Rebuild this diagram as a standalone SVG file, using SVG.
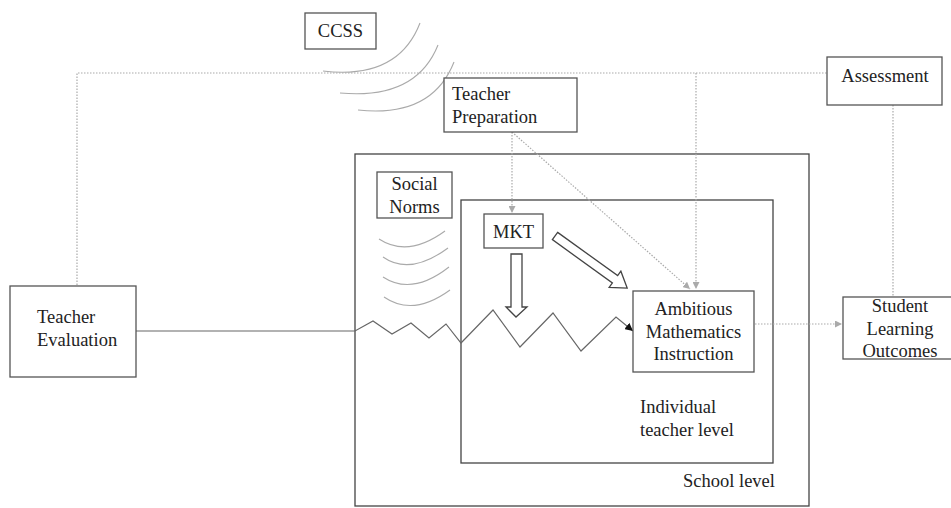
<svg xmlns="http://www.w3.org/2000/svg" width="951" height="508" viewBox="0 0 951 508">
<style>
.box{fill:#fff;stroke:#555;stroke-width:1.3}
.frame{fill:none;stroke:#444;stroke-width:1.3}
.t{font-family:'Liberation Serif','Times New Roman','DejaVu Serif',serif;font-size:18.5px;fill:#222}
.c{text-anchor:middle}
.dot{fill:none;stroke:#aaa;stroke-width:1.2;stroke-dasharray:1.5 1.5}
.arc{fill:none;stroke:#aaa;stroke-width:1.1}
.blk{fill:#fff;stroke:#444;stroke-width:1.3}
</style>
<defs>
<marker id="ga" viewBox="0 0 10 10" refX="10" refY="5" markerWidth="7" markerHeight="7" orient="auto" markerUnits="userSpaceOnUse"><path d="M0,0 L10,5 L0,10 Z" fill="#aaa"/></marker>
<marker id="ba" viewBox="0 0 10 10" refX="10" refY="5" markerWidth="8" markerHeight="8" orient="auto" markerUnits="userSpaceOnUse"><path d="M0,0 L10,5 L0,10 Z" fill="#111"/></marker>
</defs>
<rect width="951" height="508" fill="#fff"/>

<g id="school-level">
<rect class="frame" x="355" y="154" width="454" height="352"/>
<text class="t" font-family="Liberation Serif, serif" x="683" y="487">School level</text>
</g>
<g id="individual-teacher-level">
<rect class="frame" x="461" y="200" width="312" height="263"/>
<text class="t" font-family="Liberation Serif, serif" x="640" y="413">Individual</text>
<text class="t" font-family="Liberation Serif, serif" x="640" y="436">teacher level</text>
</g>

<g id="connectors">
<path class="dot" d="M77,285 V73 H827"/>
<path class="dot" d="M696,73 V289" marker-end="url(#ga)"/>
<path class="dot" d="M512,132 V213" marker-end="url(#ga)"/>
<path class="dot" d="M512,132 L690,289" marker-end="url(#ga)"/>
<path class="dot" d="M893,105 V297"/>
<path class="dot" d="M752,324 H842" marker-end="url(#ga)"/>
<path fill="none" stroke="#666" stroke-width="1.2" d="M136,331 H355 L373,321 L392,334 L411,323 L429,338 L446,324 L461,343 L493,310 L520,347 L553,313 L581,351 L616,317 L633,331" marker-end="url(#ba)"/>
<path class="arc" d="M420,23 Q398,80 323,71"/>
<path class="arc" d="M438,45 Q416,100 340,93"/>
<path class="arc" d="M454,62 Q432,118 358,110"/>
<path class="arc" d="M379,239 Q408,258 445,231"/>
<path class="arc" d="M383,257 Q410,276 448,248"/>
<path class="arc" d="M383,277 Q412,296 449,267"/>
<path class="arc" d="M384,297 Q413,317 450,290"/>
<path class="blk" d="M511,254 H522 V307 H527 L516,317 L506,307 H511 Z"/>
<path class="blk" d="M0,-4.5 L74,-4.5 L74,-10 L89,0 L74,10 L74,4.5 L0,4.5 Z" transform="translate(555,236) rotate(35.8)"/>
</g>

<g id="ccss">
<rect class="box" x="305" y="13" width="71" height="36"/>
<text class="t c" font-family="Liberation Serif, serif" x="340.5" y="37">CCSS</text>
</g>
<g id="teacher-preparation">
<rect class="box" x="444" y="78" width="133" height="54"/>
<text class="t" font-family="Liberation Serif, serif" x="452" y="100">Teacher</text>
<text class="t" font-family="Liberation Serif, serif" x="452" y="123">Preparation</text>
</g>
<g id="assessment">
<rect class="box" x="827" y="57" width="115" height="48"/>
<text class="t c" font-family="Liberation Serif, serif" x="885" y="82">Assessment</text>
</g>
<g id="social-norms">
<rect class="box" x="377" y="172" width="75" height="46"/>
<text class="t c" font-family="Liberation Serif, serif" x="414.5" y="190">Social</text>
<text class="t c" font-family="Liberation Serif, serif" x="414.5" y="213">Norms</text>
</g>
<g id="mkt">
<rect class="box" x="484" y="214" width="59" height="34"/>
<text class="t c" font-family="Liberation Serif, serif" x="513.5" y="238">MKT</text>
</g>
<g id="ambitious-mathematics-instruction">
<rect class="box" x="633" y="291" width="121" height="81"/>
<text class="t c" font-family="Liberation Serif, serif" x="693.5" y="315">Ambitious</text>
<text class="t c" font-family="Liberation Serif, serif" x="693.5" y="338">Mathematics</text>
<text class="t c" font-family="Liberation Serif, serif" x="693.5" y="360">Instruction</text>
</g>
<g id="teacher-evaluation">
<rect class="box" x="10" y="286" width="126" height="91"/>
<text class="t" font-family="Liberation Serif, serif" x="37" y="323">Teacher</text>
<text class="t" font-family="Liberation Serif, serif" x="37" y="346">Evaluation</text>
</g>
<g id="student-learning-outcomes">
<rect class="box" x="843" y="297" width="115" height="62" fill="none"/>
<text class="t c" font-family="Liberation Serif, serif" x="900" y="312">Student</text>
<text class="t c" font-family="Liberation Serif, serif" x="900" y="335">Learning</text>
<text class="t c" font-family="Liberation Serif, serif" x="900" y="357">Outcomes</text>
</g>
</svg>
